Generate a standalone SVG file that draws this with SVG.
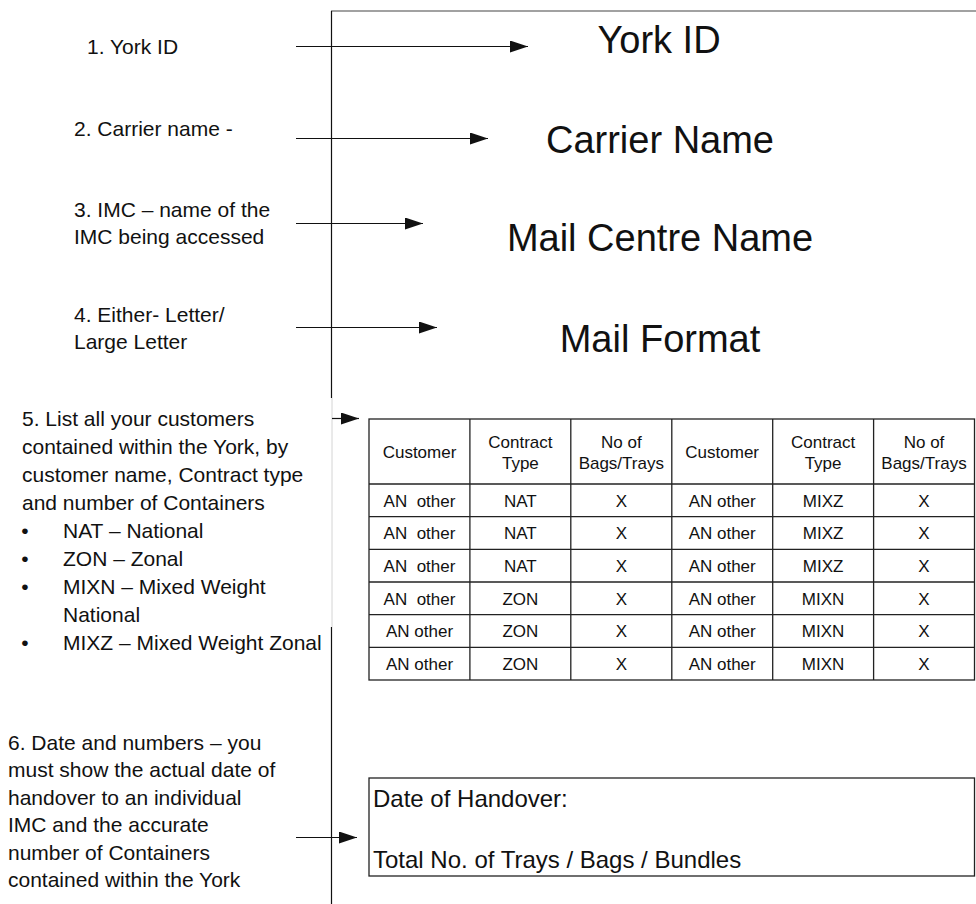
<svg xmlns="http://www.w3.org/2000/svg" width="976" height="904" viewBox="0 0 976 904">
  <style>
    text { font-family: "Liberation Sans", Arial, sans-serif; fill: #111; }
    .lbl { font-size: 21px; }
    .big { font-size: 38px; text-anchor: middle; }
    .tb { font-size: 17px; text-anchor: middle; white-space: pre; }
    .box { font-size: 24px; }
    .frame { stroke: #111; stroke-width: 1.2; fill: none; }
    .grid { stroke: #222; stroke-width: 1.3; fill: none; }
    .conn { stroke: #111; stroke-width: 1.2; fill: none; marker-end: url(#arrow); }
  </style>
  <defs>
    <marker id="arrow" markerUnits="userSpaceOnUse" markerWidth="18" markerHeight="12" refX="18" refY="6" orient="auto">
      <path d="M0,0 L18,6 L0,12 Z" fill="#111"/>
    </marker>
  </defs>
  <rect width="976" height="904" fill="#fff"/>

  <g id="page-frame">
    <line x1="331" y1="11" x2="976" y2="11" stroke="#444" stroke-width="1.2"/>
    <line x1="331.5" y1="11" x2="331.5" y2="398" class="frame"/>
    <line x1="332" y1="398" x2="332" y2="627" stroke="#d4d4d4" stroke-width="1"/>
    <line x1="331.5" y1="627" x2="331.5" y2="904" class="frame"/>
  </g>

  <g id="label-1">
    <text class="lbl" x="87" y="54">1. York ID</text>
  </g>
  <g id="label-2">
    <text class="lbl" x="74" y="136">2. Carrier name -</text>
  </g>
  <g id="label-3">
    <text class="lbl" x="74" y="217">3. IMC – name of the</text>
    <text class="lbl" x="74" y="243.5">IMC being accessed</text>
  </g>
  <g id="label-4">
    <text class="lbl" x="74" y="322">4. Either- Letter/</text>
    <text class="lbl" x="74" y="349">Large Letter</text>
  </g>
  <g id="label-5">
    <text class="lbl" x="22" y="426">5. List all your customers</text>
    <text class="lbl" x="22" y="454">contained within the York, by</text>
    <text class="lbl" x="22" y="482">customer name, Contract type</text>
    <text class="lbl" x="22" y="510">and number of Containers</text>
    <text class="lbl" x="25" y="538" text-anchor="middle">•</text>
    <text class="lbl" x="63" y="538">NAT – National</text>
    <text class="lbl" x="25" y="566" text-anchor="middle">•</text>
    <text class="lbl" x="63" y="566">ZON – Zonal</text>
    <text class="lbl" x="25" y="594" text-anchor="middle">•</text>
    <text class="lbl" x="63" y="594">MIXN – Mixed Weight</text>
    <text class="lbl" x="63" y="622">National</text>
    <text class="lbl" x="25" y="650" text-anchor="middle">•</text>
    <text class="lbl" x="63" y="650">MIXZ – Mixed Weight Zonal</text>
  </g>
  <g id="label-6">
    <text class="lbl" x="8" y="749.5">6. Date and numbers – you</text>
    <text class="lbl" x="8" y="777">must show the actual date of</text>
    <text class="lbl" x="8" y="804.5">handover to an individual</text>
    <text class="lbl" x="8" y="832">IMC and the accurate</text>
    <text class="lbl" x="8" y="859.5">number of Containers</text>
    <text class="lbl" x="8" y="887">contained within the York</text>
  </g>

  <g id="field-york-id">
    <text class="big" x="659" y="53">York ID</text>
  </g>
  <g id="field-carrier-name">
    <text class="big" x="660" y="153">Carrier Name</text>
  </g>
  <g id="field-mail-centre">
    <text class="big" x="660" y="251">Mail Centre Name</text>
  </g>
  <g id="field-mail-format">
    <text class="big" x="660" y="352">Mail Format</text>
  </g>

  <g id="customer-table">
    <rect x="369" y="419" width="605.5" height="261" class="grid"/>
    <line x1="469.9" y1="419" x2="469.9" y2="680" class="grid"/>
    <line x1="570.8" y1="419" x2="570.8" y2="680" class="grid"/>
    <line x1="671.8" y1="419" x2="671.8" y2="680" class="grid"/>
    <line x1="772.7" y1="419" x2="772.7" y2="680" class="grid"/>
    <line x1="873.6" y1="419" x2="873.6" y2="680" class="grid"/>
    <line x1="369" y1="484" x2="974.5" y2="484" class="grid"/>
    <line x1="369" y1="516.7" x2="974.5" y2="516.7" class="grid"/>
    <line x1="369" y1="549.3" x2="974.5" y2="549.3" class="grid"/>
    <line x1="369" y1="582" x2="974.5" y2="582" class="grid"/>
    <line x1="369" y1="614.7" x2="974.5" y2="614.7" class="grid"/>
    <line x1="369" y1="647.3" x2="974.5" y2="647.3" class="grid"/>

    <text class="tb" x="419.5" y="458">Customer</text>
    <text class="tb" x="520.4" y="448">Contract</text>
    <text class="tb" x="520.4" y="469">Type</text>
    <text class="tb" x="621.3" y="448">No of</text>
    <text class="tb" x="621.3" y="469">Bags/Trays</text>
    <text class="tb" x="722.2" y="458">Customer</text>
    <text class="tb" x="823.1" y="448">Contract</text>
    <text class="tb" x="823.1" y="469">Type</text>
    <text class="tb" x="924" y="448">No of</text>
    <text class="tb" x="924" y="469">Bags/Trays</text>

    <text class="tb" x="419.5" y="506.5">AN  other</text>
    <text class="tb" x="520.4" y="506.5">NAT</text>
    <text class="tb" x="621.3" y="506.5">X</text>
    <text class="tb" x="722.2" y="506.5">AN other</text>
    <text class="tb" x="823.1" y="506.5">MIXZ</text>
    <text class="tb" x="924" y="506.5">X</text>

    <text class="tb" x="419.5" y="539">AN  other</text>
    <text class="tb" x="520.4" y="539">NAT</text>
    <text class="tb" x="621.3" y="539">X</text>
    <text class="tb" x="722.2" y="539">AN other</text>
    <text class="tb" x="823.1" y="539">MIXZ</text>
    <text class="tb" x="924" y="539">X</text>

    <text class="tb" x="419.5" y="572">AN  other</text>
    <text class="tb" x="520.4" y="572">NAT</text>
    <text class="tb" x="621.3" y="572">X</text>
    <text class="tb" x="722.2" y="572">AN other</text>
    <text class="tb" x="823.1" y="572">MIXZ</text>
    <text class="tb" x="924" y="572">X</text>

    <text class="tb" x="419.5" y="604.5">AN  other</text>
    <text class="tb" x="520.4" y="604.5">ZON</text>
    <text class="tb" x="621.3" y="604.5">X</text>
    <text class="tb" x="722.2" y="604.5">AN other</text>
    <text class="tb" x="823.1" y="604.5">MIXN</text>
    <text class="tb" x="924" y="604.5">X</text>

    <text class="tb" x="419.5" y="637">AN other</text>
    <text class="tb" x="520.4" y="637">ZON</text>
    <text class="tb" x="621.3" y="637">X</text>
    <text class="tb" x="722.2" y="637">AN other</text>
    <text class="tb" x="823.1" y="637">MIXN</text>
    <text class="tb" x="924" y="637">X</text>

    <text class="tb" x="419.5" y="670">AN other</text>
    <text class="tb" x="520.4" y="670">ZON</text>
    <text class="tb" x="621.3" y="670">X</text>
    <text class="tb" x="722.2" y="670">AN other</text>
    <text class="tb" x="823.1" y="670">MIXN</text>
    <text class="tb" x="924" y="670">X</text>
  </g>

  <g id="handover-box">
    <rect x="369" y="778" width="605.5" height="98" class="grid"/>
    <text class="box" x="373" y="807">Date of Handover:</text>
    <text class="box" x="373" y="868">Total No. of Trays / Bags / Bundles</text>
  </g>

  <g id="connectors">
    <line x1="296" y1="46.5" x2="528" y2="46.5" class="conn"/>
    <line x1="296" y1="138.5" x2="488" y2="138.5" class="conn"/>
    <line x1="296" y1="223.5" x2="423" y2="223.5" class="conn"/>
    <line x1="296" y1="327.5" x2="437" y2="327.5" class="conn"/>
    <line x1="332" y1="418.5" x2="359" y2="418.5" class="conn"/>
    <line x1="296" y1="837.5" x2="357" y2="837.5" class="conn"/>
  </g>
</svg>
